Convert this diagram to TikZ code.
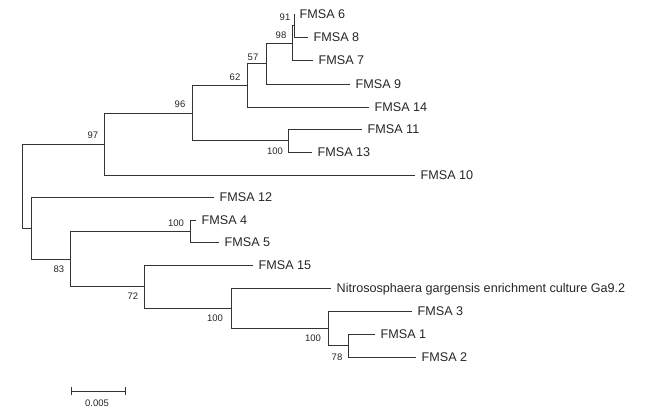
\documentclass[tikz,border=0pt]{standalone}
\usepackage{fontspec}
\setmainfont{Liberation Sans}
\begin{document}
\begin{tikzpicture}[x=1pt,y=-1pt,
  br/.style={draw=black!80,line width=0.9pt},
  leaf/.style={anchor=west,inner xsep=5.5pt,inner ysep=0pt,text height=9pt,text depth=0pt,font=\fontsize{12.6}{13}\selectfont,text=black!85},
  boot/.style={inner sep=0pt,font=\fontsize{9.5}{10}\selectfont,text=black!85}]
\useasboundingbox (0,0) rectangle (656,420);
% leaves
\node[leaf] (l6) at (294,14) {FMSA 6};
\node[leaf] (l8) at (308,37) {FMSA 8};
\node[leaf] (l7) at (313,60) {FMSA 7};
\node[leaf] (l9) at (350,84) {FMSA 9};
\node[leaf] (l14) at (369,107) {FMSA 14};
\node[leaf] (l11) at (362,129) {FMSA 11};
\node[leaf] (l13) at (312,152) {FMSA 13};
\node[leaf] (l10) at (415,175) {FMSA 10};
\node[leaf] (l12) at (214,197) {FMSA 12};
\node[leaf] (l4) at (196,220) {FMSA 4};
\node[leaf] (l5) at (219,242) {FMSA 5};
\node[leaf] (l15) at (253,265) {FMSA 15};
\node[leaf] (lN) at (331,288) {Nitrososphaera gargensis enrichment culture Ga9.2};
\node[leaf] (l3) at (412,311) {FMSA 3};
\node[leaf] (l1) at (375,334) {FMSA 1};
\node[leaf] (l2) at (416,357) {FMSA 2};
% internal nodes
\coordinate (n68) at (294,25.5);
\coordinate (n687) at (292,43);
\coordinate (n57) at (266,63.5);
\coordinate (n62) at (247,85);
\coordinate (n1113) at (288,140.5);
\coordinate (n96) at (192,113);
\coordinate (n97) at (104,144);
\coordinate (n45) at (190,231);
\coordinate (n12) at (348,345.5);
\coordinate (n3) at (328,328);
\coordinate (nN) at (231,308);
\coordinate (n72) at (144,286.5);
\coordinate (n83) at (70,259);
\coordinate (nX) at (31,228);
\coordinate (root) at (22,186);
% branches
\draw[br] (n68) |- (l6.west);
\draw[br] (n68) |- (l8.west);
\draw[br] (n687) |- (n68);
\draw[br] (n687) |- (l7.west);
\draw[br] (n57) |- (n687);
\draw[br] (n57) |- (l9.west);
\draw[br] (n62) |- (n57);
\draw[br] (n62) |- (l14.west);
\draw[br] (n1113) |- (l11.west);
\draw[br] (n1113) |- (l13.west);
\draw[br] (n96) |- (n62);
\draw[br] (n96) |- (n1113);
\draw[br] (n97) |- (n96);
\draw[br] (n97) |- (l10.west);
\draw[br] (n45) |- (l4.west);
\draw[br] (n45) |- (l5.west);
\draw[br] (n12) |- (l1.west);
\draw[br] (n12) |- (l2.west);
\draw[br] (n3) |- (l3.west);
\draw[br] (n3) |- (n12);
\draw[br] (nN) |- (lN.west);
\draw[br] (nN) |- (n3);
\draw[br] (n72) |- (l15.west);
\draw[br] (n72) |- (nN);
\draw[br] (n83) |- (n45);
\draw[br] (n83) |- (n72);
\draw[br] (nX) |- (l12.west);
\draw[br] (nX) |- (n83);
\draw[br] (root) |- (n97);
\draw[br] (root) |- (nX);
% bootstrap values
\node[boot] (b91) at (285,17) {91};
\node[boot] (b98) at (281,35) {98};
\node[boot] (b57) at (253,57) {57};
\node[boot] (b62) at (235,77) {62};
\node[boot] (b96) at (180,104) {96};
\node[boot] (b1113) at (275,151) {100};
\node[boot] (b97) at (93,135) {97};
\node[boot] (b45) at (176,223) {100};
\node[boot] (b83) at (59,269) {83};
\node[boot] (b72) at (133,296) {72};
\node[boot] (bN) at (215,318) {100};
\node[boot] (b3) at (313,338) {100};
\node[boot] (b78) at (337,357) {78};
% scale bar
\coordinate (sa) at (71,391);
\coordinate (sb) at (125,391);
\draw[br] (sa) -- (sb);
\draw[br] ([yshift=-4pt]sa) -- ([yshift=4pt]sa);
\draw[br] ([yshift=-4pt]sb) -- ([yshift=4pt]sb);
\node[boot] (sl) at (97,403) {0.005};
\end{tikzpicture}
\end{document}
